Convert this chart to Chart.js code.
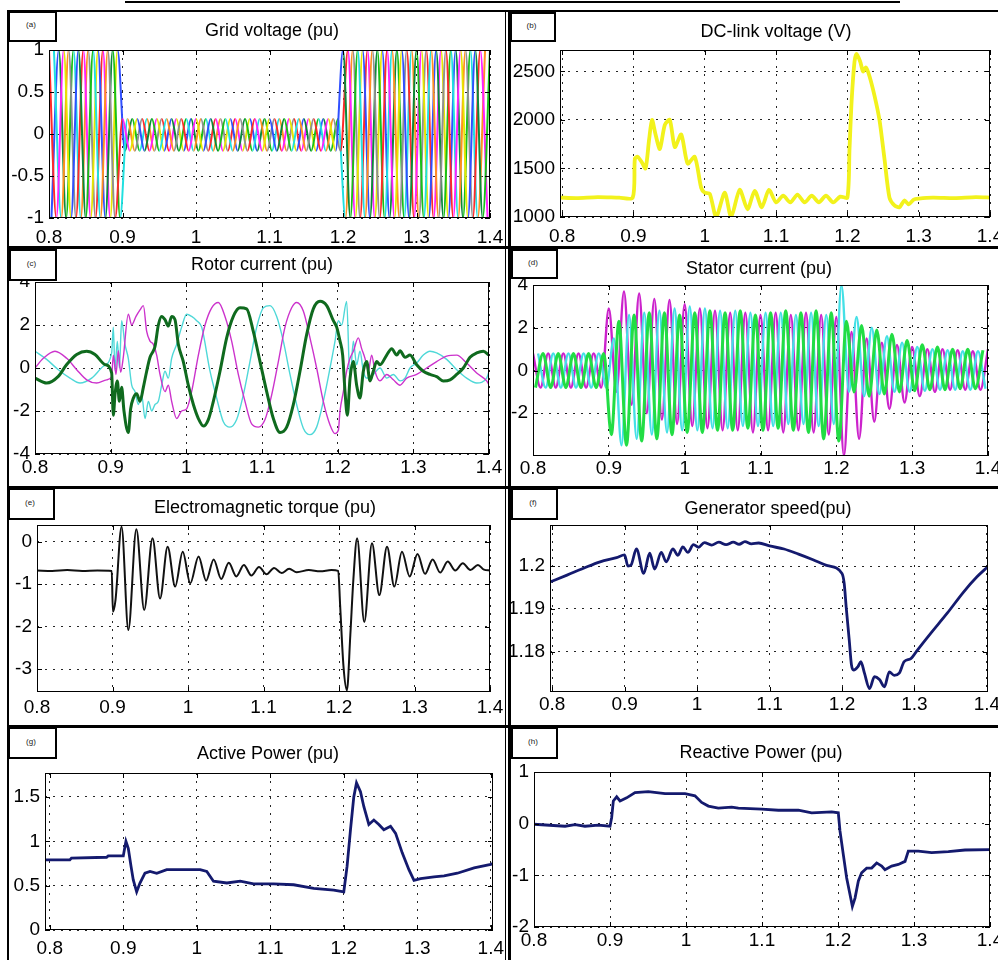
<!DOCTYPE html>
<html><head><meta charset="utf-8">
<script src="https://cdn.jsdelivr.net/npm/chart.js@4.4.0/dist/chart.umd.min.js"></script>
<style>
html,body{margin:0;padding:0;background:#fff}
body{width:998px;height:960px;overflow:hidden;position:relative;font-family:"Liberation Sans",Arial,Helvetica,sans-serif}
.ln{position:absolute;background:#000;z-index:3}
.lab{position:absolute;box-sizing:border-box;border:2px solid #000;background:#fff;z-index:4;font-size:8px;display:flex;align-items:center;justify-content:center;color:#222;padding-bottom:4px;padding-right:3px}
.ttl{position:absolute;z-index:2;font-size:18px;white-space:nowrap;transform:translate(-50%,-50%);color:#000}
</style></head><body>
<script>
// ---------- tick labels ----------
const xTicks = [0.8, 0.9, 1.0, 1.1, 1.2, 1.3, 1.4];
const yTicksGrid = [-1, -0.5, 0, 0.5, 1];
const yTicksDC = [1000, 1500, 2000, 2500];
const yTicksRotor = [-4, -2, 0, 2, 4];
const yTicksStator = [-2, 0, 2, 4];
const yTicksTorque = [-3, -2, -1, 0];
const yTicksSpeed = [1.18, 1.19, 1.2];
const yTicksP = [0, 0.5, 1, 1.5];
const yTicksQ = [-2, -1, 0, 1];

// ---------- 50 Hz phase extremum times (s) ----------
const tA = [0.80,0.81,0.82,0.83,0.84,0.85,0.86,0.87,0.88,0.89,0.90,0.91,0.92,0.93,0.94,0.95,0.96,0.97,0.98,0.99,1.00,1.01,1.02,1.03,1.04,1.05,1.06,1.07,1.08,1.09,1.10,1.11,1.12,1.13,1.14,1.15,1.16,1.17,1.18,1.19,1.20,1.21,1.22,1.23,1.24,1.25,1.26,1.27,1.28,1.29,1.30,1.31,1.32,1.33,1.34,1.35,1.36,1.37,1.38,1.39,1.40];
const tB = [0.8067,0.8167,0.8267,0.8367,0.8467,0.8567,0.8667,0.8767,0.8867,0.8967,0.9067,0.9167,0.9267,0.9367,0.9467,0.9567,0.9667,0.9767,0.9867,0.9967,1.0067,1.0167,1.0267,1.0367,1.0467,1.0567,1.0667,1.0767,1.0867,1.0967,1.1067,1.1167,1.1267,1.1367,1.1467,1.1567,1.1667,1.1767,1.1867,1.1967,1.2067,1.2167,1.2267,1.2367,1.2467,1.2567,1.2667,1.2767,1.2867,1.2967,1.3067,1.3167,1.3267,1.3367,1.3467,1.3567,1.3667,1.3767,1.3867,1.3967];
const tC = [0.8033,0.8133,0.8233,0.8333,0.8433,0.8533,0.8633,0.8733,0.8833,0.8933,0.9033,0.9133,0.9233,0.9333,0.9433,0.9533,0.9633,0.9733,0.9833,0.9933,1.0033,1.0133,1.0233,1.0333,1.0433,1.0533,1.0633,1.0733,1.0833,1.0933,1.1033,1.1133,1.1233,1.1333,1.1433,1.1533,1.1633,1.1733,1.1833,1.1933,1.2033,1.2133,1.2233,1.2333,1.2433,1.2533,1.2633,1.2733,1.2833,1.2933,1.3033,1.3133,1.3233,1.3333,1.3433,1.3533,1.3633,1.3733,1.3833,1.3933];

// ---------- (a) grid voltage (pu) ----------
const gridVA = [1,-1,1,-1,1,-1,1,-1,1,-1,
 0.18,-0.2,0.18,-0.2,0.18,-0.2,0.18,-0.2,0.18,-0.2,0.18,-0.2,0.18,-0.2,0.18,-0.2,0.18,-0.2,0.18,-0.2,0.18,-0.2,0.18,-0.2,0.18,-0.2,0.18,-0.2,0.18,-0.2,
 1,-1,1,-1,1,-1,1,-1,1,-1,1,-1,1,-1,1,-1,1,-1,1,-1,1];
const gridVB = [1,-1,1,-1,1,-1,1,-1,1,-1,
 0.18,-0.2,0.18,-0.2,0.18,-0.2,0.18,-0.2,0.18,-0.2,0.18,-0.2,0.18,-0.2,0.18,-0.2,0.18,-0.2,0.18,-0.2,0.18,-0.2,0.18,-0.2,0.18,-0.2,0.18,-0.2,0.18,-0.2,
 1,-1,1,-1,1,-1,1,-1,1,-1,1,-1,1,-1,1,-1,1,-1,1,-1];
const gridVC = [-1,1,-1,1,-1,1,-1,1,-1,1,
 -0.2,0.18,-0.2,0.18,-0.2,0.18,-0.2,0.18,-0.2,0.18,-0.2,0.18,-0.2,0.18,-0.2,0.18,-0.2,0.18,-0.2,0.18,-0.2,0.18,-0.2,0.18,-0.2,0.18,-0.2,0.18,-0.2,0.18,
 -1,1,-1,1,-1,1,-1,1,-1,1,-1,1,-1,1,-1,1,-1,1,-1,1];

// ---------- (b) DC-link voltage (V) ----------
const dcT = [0.797,0.82,0.85,0.88,0.899,0.902,0.906,0.912,0.917,0.922,0.926,0.931,0.937,0.944,0.951,0.958,0.967,0.976,0.986,0.995,1.0,1.007,1.016,1.028,1.037,1.049,1.06,1.07,1.08,1.09,1.1,1.11,1.12,1.13,1.14,1.15,1.16,1.17,1.18,1.19,1.2,1.203,1.206,1.21,1.213,1.218,1.222,1.226,1.231,1.238,1.245,1.252,1.259,1.266,1.273,1.28,1.286,1.293,1.3,1.32,1.35,1.38,1.401];
const dcV = [1200,1195,1205,1200,1200,1600,1620,1560,1500,1800,2000,1850,1700,1950,2000,1720,1850,1550,1620,1300,1250,1240,1000,1250,1000,1280,1080,1270,1100,1280,1150,1220,1150,1230,1150,1220,1150,1220,1150,1210,1200,1700,2200,2600,2680,2600,2500,2540,2450,2250,2000,1600,1200,1120,1100,1170,1130,1180,1190,1200,1195,1205,1200];

// ---------- (c) rotor current (pu) ----------
const rotGreenT = [0.8,0.8154,0.8308,0.8419,0.8551,0.8683,0.8793,0.8925,0.9013,0.9035,0.9057,0.9088,0.9115,0.9145,0.9176,0.9233,0.9264,0.93,0.9344,0.9388,0.9432,0.9476,0.952,0.9564,0.9586,0.963,0.9674,0.9718,0.9762,0.9806,0.985,0.9894,0.996,1.0026,1.0093,1.0159,1.0225,1.0291,1.0357,1.0445,1.0533,1.0621,1.0709,1.0797,1.0885,1.0974,1.1062,1.115,1.1238,1.1326,1.1414,1.1502,1.159,1.1678,1.1767,1.1855,1.1943,1.1987,1.2031,1.2066,1.2097,1.2128,1.2163,1.2207,1.2251,1.2295,1.2339,1.2383,1.2427,1.2471,1.2515,1.2559,1.2648,1.2714,1.278,1.2824,1.289,1.2956,1.3044,1.3132,1.322,1.3308,1.3396,1.3485,1.3573,1.3661,1.3749,1.3837,1.3925,1.4];
const rotGreenV = [-0.47,-0.7,-0.39,0.16,0.63,0.78,0.63,0.16,-0.23,-2.2,-1.25,-0.6,-1.55,-0.9,-2.0,-3.0,-1.9,-1.4,-1.2,-1.55,-0.9,-0.15,0.5,0.8,1.0,2.0,2.4,2.25,1.95,2.4,2.25,1.1,0.3,-0.8,-1.7,-2.35,-2.7,-2.4,-1.55,-0.15,1.4,2.4,2.8,2.75,1.7,0.3,-1.1,-2.35,-3.0,-2.75,-1.7,-0.15,1.55,2.75,3.1,2.9,2.2,1.9,1.25,0.6,-1.1,-2.2,-0.5,0.3,-0.8,-1.4,-0.15,0.3,-0.6,-0.15,0.3,0.15,0.6,0.9,0.6,0.8,0.5,0.6,0.15,-0.15,-0.3,-0.4,-0.6,-0.55,-0.3,0,0.5,0.7,0.78,0.6];
const rotMagT = [0.8,0.811,0.8264,0.8419,0.8551,0.8683,0.8815,0.8947,0.9013,0.9035,0.907,0.9101,0.9132,0.9167,0.9233,0.9278,0.9335,0.9388,0.9432,0.9476,0.952,0.9564,0.9608,0.9652,0.9718,0.9762,0.9806,0.9872,0.9938,1.0004,1.007,1.0159,1.0247,1.0335,1.0423,1.0511,1.0599,1.0687,1.0775,1.0863,1.0952,1.104,1.1128,1.1216,1.1304,1.1392,1.1458,1.1546,1.1634,1.1722,1.181,1.1899,1.1965,1.2009,1.2031,1.2075,1.2119,1.2163,1.2207,1.2273,1.2317,1.2361,1.2405,1.2449,1.2493,1.2559,1.2648,1.2736,1.2824,1.2912,1.3044,1.3176,1.3308,1.3441,1.3573,1.3705,1.3837,1.3969,1.4];
const rotMagV = [0,0.45,0.78,0.45,-0.08,-0.55,-0.7,-0.55,-0.4,0.6,-0.3,0.8,-0.2,0.5,2.5,2.0,2.4,2.7,2.9,1.7,1.25,1.1,0.6,-0.3,-1.1,-0.8,-1.55,-2.35,-2.0,-1.9,-1.1,0.6,2.0,2.8,3.05,2.4,1.25,-0.3,-1.55,-2.6,-2.75,-2.4,-1.25,0.3,1.9,2.8,3.05,2.65,1.4,0,-1.55,-2.65,-3.05,-2.9,-2.0,-1.1,-0.15,0.45,0.78,1.4,0.9,0.45,-0.15,0.6,-0.15,-0.6,-0.3,-0.55,-0.8,-0.47,-0.3,0,0.3,0.55,0.6,0.23,-0.23,-0.6,-0.78];
const rotCyanT = [0.8,0.8154,0.8308,0.8463,0.8595,0.8749,0.8903,0.9013,0.9035,0.9057,0.9088,0.9115,0.9145,0.9189,0.9233,0.9278,0.9322,0.9366,0.941,0.9454,0.9498,0.9542,0.9586,0.963,0.9674,0.9718,0.9762,0.9806,0.9872,0.9938,1.0004,1.007,1.0137,1.0203,1.0313,1.0401,1.0489,1.0577,1.0665,1.0753,1.0841,1.093,1.1018,1.1106,1.1194,1.1282,1.137,1.1458,1.1546,1.1634,1.1722,1.181,1.1899,1.1965,1.2009,1.2053,1.2119,1.2163,1.2207,1.2251,1.2295,1.2339,1.2383,1.2471,1.2559,1.2648,1.2736,1.2824,1.289,1.2956,1.3044,1.3132,1.322,1.3308,1.3441,1.3573,1.3705,1.3837,1.3969,1.4];
const rotCyanV = [0.78,0.4,-0.08,-0.47,-0.7,-0.47,0.08,0.7,1.9,-0.1,1.25,0,2.2,1.1,0.45,-0.8,-1.1,-1.7,-1.25,-2.35,-1.55,-2.0,-1.7,-1.55,-0.8,-0.15,-0.47,0.45,1.1,1.9,2.5,2.4,2.2,1.9,-0.15,-1.4,-2.5,-2.75,-2.4,-1.25,0.3,1.9,2.8,2.9,2.4,1.25,-0.3,-1.7,-2.8,-3.1,-2.75,-1.55,0,1.25,2.2,2.0,3.1,-0.6,1.25,0.15,0.78,-0.15,-0.47,-0.3,0,-0.47,-0.3,-0.6,-0.47,0,0.23,0.6,0.78,0.7,0.4,-0.08,-0.47,-0.7,-0.47,-0.16];

// ---------- (d) stator current (pu), extremum values on tA / tB / tC ----------
const statA = [0.8,-0.8,0.8,-0.8,0.8,-0.8,0.8,-0.8,0.8,-0.8,
 2.9,-1.0,3.7,-1.6,3.6,-2.0,3.35,-2.3,3.3,-2.5,3.1,-2.6,2.9,-2.7,2.8,-2.8,2.7,-2.8,2.7,-2.9,2.6,-2.8,2.7,-2.9,2.6,-2.8,2.7,-2.9,2.6,-3.0,
 2.5,-4.0,1.8,-3.2,1.5,-2.4,1.3,-1.8,1.2,-1.5,1.1,-1.2,1.0,-1.0,1.0,-0.9,0.95,-0.9,0.9,-0.9,1.0];
const statB = [0.8,-0.8,0.8,-0.8,0.8,-0.8,0.8,-0.8,0.8,-0.8,
 1.5,-3.5,2.6,-3.2,2.7,-3.0,2.8,-2.9,2.9,-2.8,3.0,-2.8,2.9,-2.7,2.8,-2.7,2.8,-2.6,2.7,-2.6,2.7,-2.6,2.7,-2.5,2.6,-2.5,2.7,-2.6,2.6,-2.5,
 4.0,-1.0,2.5,-1.2,2.0,-1.1,1.6,-1.0,1.3,-1.0,1.1,-0.95,1.0,-0.9,0.95,-0.9,0.9,-0.9,0.9,-0.85];
const statC = [-0.8,0.8,-0.8,0.8,-0.8,0.8,-0.8,0.8,-0.8,0.8,
 -3.0,2.3,-3.5,2.6,-3.3,2.7,-3.2,2.7,-3.0,2.6,-2.9,2.7,-2.9,2.8,-2.8,2.7,-2.8,2.8,-2.7,2.6,-2.8,2.7,-2.7,2.8,-2.8,2.7,-2.9,2.8,-3.2,2.7,
 -3.3,2.3,-1.0,2.1,-1.2,1.9,-1.1,1.7,-1.0,1.4,-0.95,1.2,-0.9,1.1,-0.9,1.0,-0.85,1.0,-0.85,0.95];

// ---------- (e) electromagnetic torque (pu) ----------
const torqueT = [0.8,0.82,0.84,0.86,0.88,0.899,0.9005,0.904,0.912,0.921,0.9316,0.942,0.953,0.963,0.973,0.983,0.993,1.003,1.014,1.024,1.034,1.044,1.054,1.064,1.074,1.084,1.094,1.104,1.114,1.124,1.134,1.144,1.16,1.175,1.19,1.199,1.2015,1.206,1.2105,1.215,1.219,1.224,1.2335,1.2437,1.2534,1.2636,1.2733,1.2834,1.2936,1.304,1.314,1.324,1.334,1.344,1.354,1.364,1.374,1.384,1.392,1.4];
const torqueV = [-0.68,-0.69,-0.67,-0.69,-0.68,-0.69,-1.65,-1.37,0.35,-2.08,0.29,-1.61,0.08,-1.34,-0.12,-1.06,-0.24,-0.98,-0.35,-0.92,-0.42,-0.88,-0.5,-0.82,-0.55,-0.8,-0.6,-0.77,-0.62,-0.74,-0.64,-0.72,-0.67,-0.7,-0.67,-0.69,-1.5,-2.95,-3.5,-2.2,-0.9,0.08,-1.89,-0.04,-1.26,-0.12,-1.06,-0.24,-0.82,-0.29,-0.76,-0.42,-0.73,-0.47,-0.68,-0.51,-0.67,-0.55,-0.66,-0.68];

// ---------- (f) generator speed (pu) ----------
const speedT = [0.797,0.8205,0.8433,0.8661,0.8889,0.9,0.9045,0.909,0.9163,0.9264,0.9346,0.9414,0.9506,0.9574,0.9666,0.9735,0.9803,0.9872,0.995,1.002,1.01,1.02,1.03,1.04,1.05,1.058,1.066,1.075,1.085,1.1,1.12,1.14,1.16,1.18,1.2,1.203,1.206,1.21,1.213,1.216,1.222,1.226,1.231,1.238,1.2448,1.2517,1.2585,1.2653,1.272,1.279,1.2858,1.295,1.3041,1.3224,1.3452,1.368,1.3863,1.4015];
const speedV = [1.1963,1.1979,1.1995,1.201,1.202,1.2026,1.2,1.2003,1.204,1.1983,1.203,1.1993,1.2032,1.201,1.204,1.2025,1.2045,1.2032,1.205,1.2044,1.2055,1.2049,1.2056,1.205,1.2056,1.2051,1.2057,1.2052,1.2054,1.2047,1.204,1.2028,1.2015,1.2001,1.1983,1.196,1.19,1.1827,1.177,1.1757,1.1765,1.1777,1.175,1.1714,1.1742,1.1735,1.1718,1.1753,1.1745,1.175,1.1777,1.1784,1.1804,1.1843,1.189,1.194,1.1975,1.1999];

// ---------- (g) active power (pu) ----------
const pT = [0.7935,0.8273,0.8295,0.8773,0.8795,0.9,0.9036,0.9068,0.9105,0.9136,0.9182,0.9227,0.9295,0.9364,0.9455,0.9591,0.9864,1.0045,1.0136,1.0227,1.0409,1.0591,1.0773,1.1045,1.1318,1.1591,1.1864,1.2,1.2045,1.2091,1.2136,1.2173,1.2227,1.2273,1.2341,1.2409,1.2477,1.2545,1.2636,1.2705,1.2795,1.2886,1.2955,1.3045,1.3227,1.3364,1.3545,1.3773,1.4,1.403];
const pV = [0.79,0.79,0.81,0.82,0.835,0.835,1.0,0.92,0.72,0.565,0.43,0.53,0.64,0.66,0.64,0.68,0.68,0.68,0.66,0.55,0.53,0.55,0.52,0.52,0.51,0.47,0.45,0.43,0.72,1.13,1.5,1.66,1.56,1.39,1.19,1.24,1.19,1.13,1.17,1.09,0.87,0.68,0.56,0.58,0.6,0.61,0.64,0.7,0.74,0.75];

// ---------- (h) reactive power (pu) ----------
const qT = [0.7991,0.8408,0.854,0.8671,0.8846,0.9,0.9022,0.9044,0.9088,0.9132,0.9219,0.9329,0.9504,0.9724,0.9987,1.0118,1.0206,1.0294,1.0425,1.0601,1.0689,1.0996,1.1215,1.1478,1.1654,1.1917,1.2004,1.2026,1.207,1.2114,1.2158,1.2189,1.2224,1.2268,1.2311,1.2377,1.2443,1.2509,1.2575,1.2618,1.2706,1.2794,1.2882,1.2925,1.3057,1.3232,1.3452,1.3671,1.4022];
const qV = [-0.01,-0.05,-0.02,-0.05,-0.03,-0.05,0.12,0.44,0.52,0.44,0.5,0.6,0.62,0.58,0.58,0.54,0.41,0.34,0.3,0.32,0.3,0.28,0.26,0.26,0.21,0.23,0.21,-0.14,-0.6,-1.05,-1.37,-1.6,-1.44,-1.11,-0.95,-0.86,-0.86,-0.76,-0.82,-0.89,-0.82,-0.79,-0.73,-0.53,-0.53,-0.56,-0.54,-0.51,-0.5];

// ================= rendering =================
Chart.defaults.font.family = '"Liberation Sans", Arial, Helvetica, sans-serif';
Chart.defaults.color = '#000';

const pts = (t, v) => t.map((x, i) => ({x: x, y: v[i]}));
const fmt = v => String(+Number(v).toFixed(3));

// canvas box (x,y,w,h), plot area (L,T,R,B) in page pixels, x tick label gap
const panels = {
  a: {x:10,  y:38,  w:495, h:208, L:49,  T:50,  R:490, B:218, xp:8},
  b: {x:511, y:38,  w:487, h:208, L:560, T:50,  R:990, B:217, xp:8},
  c: {x:10,  y:268, w:495, h:218, L:35,  T:282, R:489, B:454, xp:2},
  d: {x:511, y:270, w:487, h:216, L:533, T:285, R:988, B:456, xp:1},
  e: {x:10,  y:511, w:495, h:214, L:37,  T:525, R:490, B:692, xp:4},
  f: {x:511, y:511, w:487, h:214, L:550, T:525, R:988, B:692, xp:1},
  g: {x:10,  y:759, w:495, h:201, L:45,  T:773, R:493, B:930, xp:7},
  h: {x:511, y:759, w:487, h:201, L:534, T:772, R:990, B:927, xp:2}
};

const boxPlugin = {
  id: 'mbox',
  afterDraw(chart) {
    const {ctx, chartArea: a, scales} = chart;
    ctx.save();
    ctx.strokeStyle = '#000';
    ctx.lineWidth = 1;
    ctx.strokeRect(Math.round(a.left) + 0.5, Math.round(a.top) + 0.5, Math.round(a.right - a.left) - 1, Math.round(a.bottom - a.top) - 1);
    ctx.beginPath();
    scales.x.ticks.forEach(t => {
      const x = Math.round(scales.x.getPixelForValue(t.value)) + 0.5;
      ctx.moveTo(x, a.bottom); ctx.lineTo(x, a.bottom - 5);
      ctx.moveTo(x, a.top); ctx.lineTo(x, a.top + 5);
    });
    scales.y.ticks.forEach(t => {
      const y = Math.round(scales.y.getPixelForValue(t.value)) + 0.5;
      ctx.moveTo(a.left, y); ctx.lineTo(a.left + 5, y);
      ctx.moveTo(a.right, y); ctx.lineTo(a.right - 5, y);
    });
    ctx.stroke();
    ctx.restore();
  }
};

function makeChart(p, datasets, o) {
  const cv = document.createElement('canvas');
  cv.width = p.w; cv.height = p.h;
  cv.style.cssText = 'position:absolute;left:' + p.x + 'px;top:' + p.y + 'px;width:' + p.w + 'px;height:' + p.h + 'px;z-index:1';
  document.body.appendChild(cv);
  const grid = {color: '#262626', lineWidth: 1, drawTicks: false};
  const border = {display: false, dash: [2, 6]};
  return new Chart(cv, {
    type: 'line',
    data: {datasets: datasets},
    options: {
      responsive: false, animation: false, devicePixelRatio: 1, events: [],
      layout: {padding: {top: p.T - p.y, right: p.x + p.w - p.R, left: 0, bottom: 0}},
      plugins: {legend: {display: false}, tooltip: {enabled: false}, title: {display: false}},
      elements: {point: {radius: 0}, line: {fill: false}},
      scales: {
        x: {
          type: 'linear', min: o.xMin, max: o.xMax,
          afterBuildTicks: s => { s.ticks = xTicks.map(v => ({value: v})); },
          afterFit: s => { s.height = p.y + p.h - p.B; s.paddingLeft = 0; s.paddingRight = 0; },
          grid: grid, border: border,
          ticks: {padding: p.xp, font: {size: 19}, color: '#000', maxRotation: 0, autoSkip: false, callback: v => fmt(v)}
        },
        y: {
          type: 'linear', min: o.yMin, max: o.yMax,
          afterBuildTicks: s => { s.ticks = o.yTicks.map(v => ({value: v})); },
          afterFit: s => { s.width = p.L - p.x; s.paddingTop = 0; s.paddingBottom = 0; },
          grid: grid, border: border,
          ticks: {padding: 5, font: {size: 19}, color: '#000', autoSkip: false, callback: v => fmt(v)}
        }
      }
    },
    plugins: [boxPlugin]
  });
}

const gridPalette = ['#ff2a2a', '#18c018', '#ff20ff', '#20e0e0', '#e6e600', '#ff9020', '#3050ff', '#909090', '#0a8a3a'];
const segCol = off => ({borderColor: c => gridPalette[(c.p0DataIndex * 2 + off) % gridPalette.length]});

// (a)
makeChart(panels.a, [
  {data: pts(tA, gridVA), borderColor: '#ff20ff', borderWidth: 2, cubicInterpolationMode: 'monotone', segment: segCol(0)},
  {data: pts(tB, gridVB), borderColor: '#20e0e0', borderWidth: 2, cubicInterpolationMode: 'monotone', segment: segCol(3)},
  {data: pts(tC, gridVC), borderColor: '#18c018', borderWidth: 2, cubicInterpolationMode: 'monotone', segment: segCol(6)}
], {xMin: 0.8, xMax: 1.4, yMin: -1, yMax: 1, yTicks: yTicksGrid});

// (b)
makeChart(panels.b, [
  {data: pts(dcT, dcV), borderColor: '#f2f21c', borderWidth: 3.8, tension: 0.25}
], {xMin: 0.797, xMax: 1.4, yMin: 1000, yMax: 2720, yTicks: yTicksDC});

// (c)
makeChart(panels.c, [
  {data: pts(rotGreenT, rotGreenV), borderColor: '#0f6a1e', borderWidth: 3, cubicInterpolationMode: 'monotone'},
  {data: pts(rotMagT, rotMagV), borderColor: '#cc33cc', borderWidth: 1.4, cubicInterpolationMode: 'monotone'},
  {data: pts(rotCyanT, rotCyanV), borderColor: '#4fd8d8', borderWidth: 1.4, cubicInterpolationMode: 'monotone'}
], {xMin: 0.8, xMax: 1.4, yMin: -4, yMax: 4, yTicks: yTicksRotor});

// (d)
makeChart(panels.d, [
  {data: pts(tC, statC), borderColor: '#22dd44', borderWidth: 3, cubicInterpolationMode: 'monotone'},
  {data: pts(tB, statB), borderColor: '#44e0e6', borderWidth: 2.4, cubicInterpolationMode: 'monotone'},
  {data: pts(tA, statA), borderColor: '#cc22cc', borderWidth: 2.4, cubicInterpolationMode: 'monotone'}
], {xMin: 0.8, xMax: 1.4, yMin: -4, yMax: 4, yTicks: yTicksStator});

// (e)
makeChart(panels.e, [
  {data: pts(torqueT, torqueV), borderColor: '#111111', borderWidth: 2, cubicInterpolationMode: 'monotone'}
], {xMin: 0.8, xMax: 1.4, yMin: -3.54, yMax: 0.39, yTicks: yTicksTorque});

// (f)
makeChart(panels.f, [
  {data: pts(speedT, speedV), borderColor: '#141a6e', borderWidth: 2.8, cubicInterpolationMode: 'monotone'}
], {xMin: 0.797, xMax: 1.4015, yMin: 1.1706, yMax: 1.2096, yTicks: yTicksSpeed});

// (g)
makeChart(panels.g, [
  {data: pts(pT, pV), borderColor: '#141a6e', borderWidth: 2.8}
], {xMin: 0.7935, xMax: 1.403, yMin: 0, yMax: 1.77, yTicks: yTicksP});

// (h)
makeChart(panels.h, [
  {data: pts(qT, qV), borderColor: '#141a6e', borderWidth: 2.8}
], {xMin: 0.8, xMax: 1.4, yMin: -2, yMax: 1, yTicks: yTicksQ});

// ---------- frames, label boxes and titles ----------
function div(cls, css, text) {
  const d = document.createElement('div');
  d.className = cls; d.style.cssText = css;
  if (text) d.textContent = text;
  document.body.appendChild(d);
}
div('ln', 'left:125px;top:1px;width:775px;height:2px');
div('ln', 'left:7px;top:10px;width:2px;height:950px');
div('ln', 'left:505px;top:10px;width:1px;height:950px');
div('ln', 'left:508px;top:10px;width:3px;height:950px');
[[10, 2], [246, 3], [486, 3], [725, 3]].forEach(r => div('ln', 'left:7px;top:' + r[0] + 'px;width:991px;height:' + r[1] + 'px'));

const labels = [
  ['(a)', 8, 11, 49, 31], ['(b)', 510, 12, 46, 30],
  ['(c)', 9, 249, 48, 32], ['(d)', 511, 249, 47, 30],
  ['(e)', 8, 488, 47, 32], ['(f)', 511, 488, 47, 32],
  ['(g)', 8, 727, 49, 32], ['(h)', 511, 727, 47, 32]
];
labels.forEach(l => div('lab', 'left:' + l[1] + 'px;top:' + l[2] + 'px;width:' + l[3] + 'px;height:' + l[4] + 'px', l[0]));

const titles = [
  ['Grid voltage (pu)', 272, 30], ['DC-link voltage (V)', 776, 31],
  ['Rotor current (pu)', 262, 264], ['Stator current (pu)', 759, 268],
  ['Electromagnetic torque (pu)', 265, 507], ['Generator speed(pu)', 768, 508],
  ['Active Power (pu)', 268, 753], ['Reactive Power (pu)', 761, 752]
];
titles.forEach(t => div('ttl', 'left:' + t[1] + 'px;top:' + t[2] + 'px', t[0]));
</script>
</body></html>
